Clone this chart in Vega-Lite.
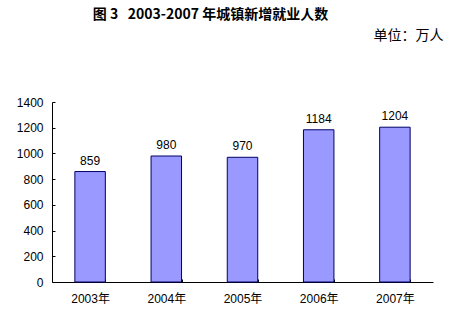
{
  "$schema": "https://vega.github.io/schema/vega-lite/v6.json",
  "autosize": {"type": "none"},
  "padding": {"left": 52, "top": 102, "right": 21, "bottom": 36},
  "width": 381,
  "height": 180,
  "background": "white",
  "title": {
    "text": "图 3\u00a0\u00a0 2003-2007 年城镇新增就业人数",
    "font": "Noto Sans CJK SC",
    "fontSize": 14,
    "fontWeight": "bold",
    "color": "#000000",
    "anchor": "middle",
    "dx": -32,
    "baseline": "middle",
    "offset": -1
  },
  "data": {
    "values": [
      {"year": "2003年", "value": 859},
      {"year": "2004年", "value": 980},
      {"year": "2005年", "value": 970},
      {"year": "2006年", "value": 1184},
      {"year": "2007年", "value": 1204}
    ]
  },
  "encoding": {
    "x": {
      "field": "year",
      "type": "nominal",
      "sort": null,
      "scale": {"paddingInner": 0.6, "paddingOuter": 0.3},
      "axis": {
        "title": null,
        "labelAngle": 0,
        "labelFont": "Liberation Sans, Noto Sans CJK SC",
        "labelFontSize": 12,
        "labelColor": "#000000",
        "labelPadding": 14,
        "domainColor": "#000000",
        "tickColor": "#000000",
        "tickBand": "extent",
        "tickSize": -3,
        "grid": false
      }
    },
    "y": {
      "field": "value",
      "type": "quantitative",
      "scale": {"domain": [0, 1400], "nice": false},
      "axis": {
        "values": [0, 200, 400, 600, 800, 1000, 1200, 1400],
        "format": "d",
        "title": "单位：万人",
        "titleAngle": 0,
        "titleX": 391,
        "titleY": -67,
        "titleAlign": "right",
        "titleBaseline": "middle",
        "titleFont": "Noto Sans CJK SC",
        "titleFontSize": 14,
        "titleFontWeight": "normal",
        "titleColor": "#000000",
        "labelFont": "Liberation Sans",
        "labelFontSize": 12,
        "labelColor": "#000000",
        "labelPadding": 12,
        "domainColor": "#000000",
        "tickColor": "#000000",
        "tickSize": -3,
        "grid": false
      }
    }
  },
  "layer": [
    {
      "mark": {"type": "bar", "color": "#9999FF", "stroke": "#000066", "strokeWidth": 1}
    },
    {
      "mark": {"type": "text", "baseline": "bottom", "dy": -4, "font": "Liberation Sans", "fontSize": 12, "color": "#000000"},
      "encoding": {"text": {"field": "value", "type": "quantitative"}}
    }
  ],
  "config": {"view": {"stroke": null}}
}
